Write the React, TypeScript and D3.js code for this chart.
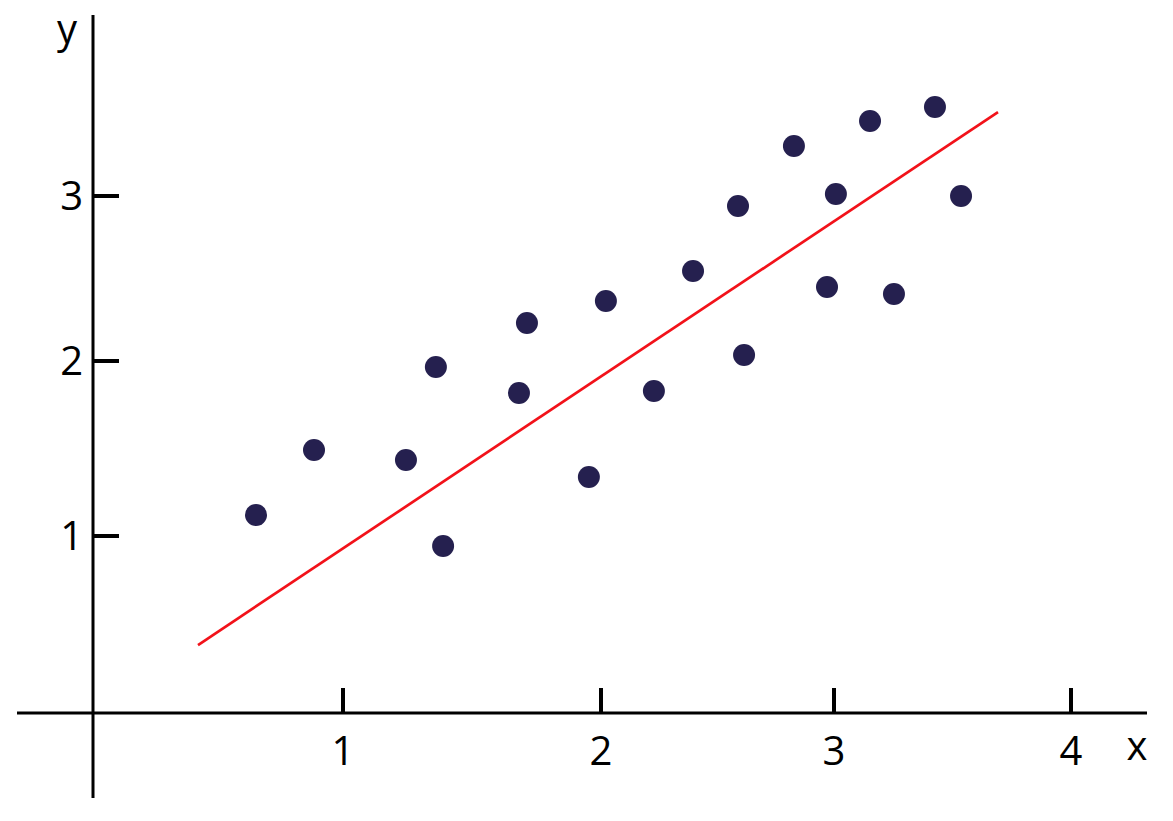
import React from "react";
import * as d3 from "d3";

const xTicks = [1, 2, 3, 4];
const yTicks = [1, 2, 3];
const pointsX = [0.652, 0.884, 1.244, 1.36, 1.388, 1.682, 1.713, 1.953, 2.021, 2.227, 2.395, 2.588, 2.614, 2.828, 2.97, 3.008, 3.152, 3.253, 3.426, 3.536];
const pointsY = [1.12, 1.491, 1.434, 1.966, 0.944, 1.817, 2.23, 1.337, 2.364, 1.829, 2.545, 2.939, 2.036, 3.303, 2.448, 3.012, 3.455, 2.406, 3.539, 3.0];
const fitX = [0.42, 3.692];
const fitY = [0.384, 3.509];

export default function App() {
  const W = 1173, H = 821;
  const x = d3.scaleLinear().domain([0, 1, 2, 3, 4]).range([93, 343, 601, 834, 1071]);
  const y = d3.scaleLinear().domain([0, 1, 2, 3]).range([713, 536, 361, 196]);
  const font = "'Open Sans', 'Noto Sans', sans-serif";
  const line = d3.line<number>().x((d, i) => x(fitX[i])).y((d, i) => y(fitY[i]));
  return (
    <svg width={W} height={H} style={{ position: "absolute", left: 0, top: 0, display: "block", background: "#fff" }}>
      <line x1={17} x2={1147} y1={y(0)} y2={y(0)} stroke="#000" strokeWidth={3} />
      <line x1={x(0)} x2={x(0)} y1={15} y2={798} stroke="#000" strokeWidth={3} />
      {xTicks.map((t) => (
        <g key={"x" + t}>
          <line x1={x(t)} x2={x(t)} y1={y(0)} y2={y(0) - 25} stroke="#000" strokeWidth={4} />
          <text x={x(t)} y={765} textAnchor="middle" fontFamily={font} fontSize={40} fill="#000">{t}</text>
        </g>
      ))}
      {yTicks.map((t) => (
        <g key={"y" + t}>
          <line x1={x(0)} x2={x(0) + 26} y1={y(t)} y2={y(t)} stroke="#000" strokeWidth={4} />
          <text x={83} y={y(t) + 14} textAnchor="end" fontFamily={font} fontSize={40} fill="#000">{t}</text>
        </g>
      ))}
      <text x={67} y={43} textAnchor="middle" fontFamily={font} fontSize={40} fill="#000">y</text>
      <text x={1137} y={760} textAnchor="middle" fontFamily={font} fontSize={40} fill="#000">x</text>
      <path d={line(fitX) || ""} stroke="#f2121a" strokeWidth={2.7} fill="none" />
      {pointsX.map((px, i) => (
        <circle key={i} cx={x(px)} cy={y(pointsY[i])} r={11} fill="#25204f" />
      ))}
    </svg>
  );
}
